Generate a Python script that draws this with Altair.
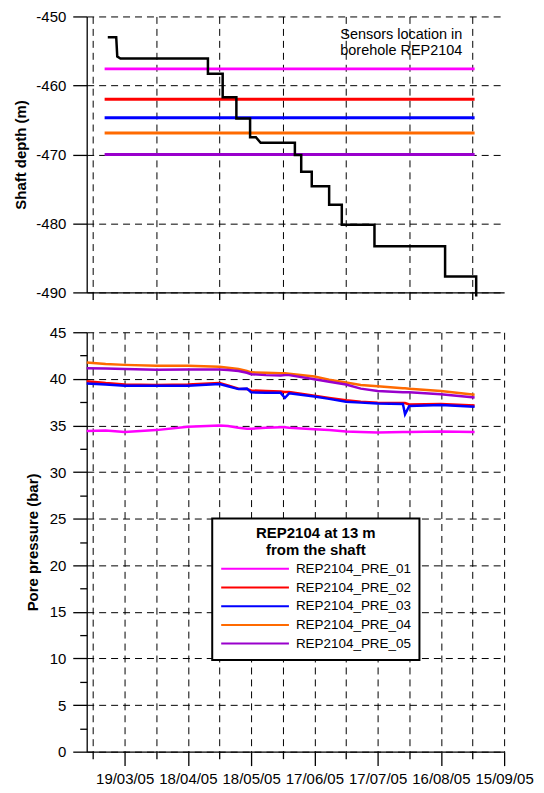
import altair as alt
import pandas as pd

FONT = "Liberation Sans"

# ---------------- data ----------------
series_names = ["REP2104_PRE_01", "REP2104_PRE_02", "REP2104_PRE_03",
                "REP2104_PRE_04", "REP2104_PRE_05"]
series_colors = ["#ff00ff", "#ff0000", "#0000ff", "#ff6a00", "#9900cc"]

# sensor depths in borehole (top panel)
sensor_depths = [-457.6, -462.0, -464.7, -466.9, -470.0]
sensor_start = "2005-03-09T12:00:00"
sensor_end = "2005-09-01T00:00:00"

# shaft excavation depth (step line)
step_dates = ["2005-03-11T00:00:00", "2005-03-15T00:00:00", "2005-03-15T12:00:00",
              "2005-03-17T00:00:00", "2005-04-27T12:00:00", "2005-04-27T12:00:00",
              "2005-05-04T12:00:00", "2005-05-04T12:00:00", "2005-05-11T00:00:00",
              "2005-05-11T00:00:00", "2005-05-17T12:00:00", "2005-05-17T12:00:00",
              "2005-05-20T06:00:00", "2005-05-22T12:00:00", "2005-06-07T18:00:00",
              "2005-06-07T18:00:00", "2005-06-10T18:00:00", "2005-06-10T18:00:00",
              "2005-06-15T18:00:00", "2005-06-15T18:00:00", "2005-06-24T00:00:00",
              "2005-06-24T00:00:00", "2005-06-30T00:00:00", "2005-06-30T00:00:00",
              "2005-07-15T12:00:00", "2005-07-15T12:00:00", "2005-08-18T00:00:00",
              "2005-08-18T00:00:00", "2005-09-01T18:00:00", "2005-09-01T18:00:00"]
step_depths = [-453.0, -453.0, -455.8, -456.1, -456.1, -458.3,
               -458.3, -461.7, -461.7, -464.8, -464.8, -467.5,
               -467.5, -468.3, -468.3, -470.1, -470.1, -472.5,
               -472.5, -474.6, -474.6, -477.3, -477.3, -480.2,
               -480.2, -483.3, -483.3, -487.7, -487.7, -490.6]

# pore pressure (bottom panel)
pressure_dates = ["2005-03-01", "2005-03-10", "2005-03-19", "2005-04-03", "2005-04-18",
                  "2005-05-03", "2005-05-07", "2005-05-12", "2005-05-16", "2005-05-18",
                  "2005-05-25", "2005-06-01", "2005-06-03", "2005-06-05", "2005-06-17",
                  "2005-06-24", "2005-07-02", "2005-07-09", "2005-07-17", "2005-07-29",
                  "2005-07-30", "2005-08-01", "2005-08-16", "2005-09-01"]
pre_01 = [34.40, 34.45, 34.30, 34.50, 34.85, 35.00, 34.95, 34.75, 34.65, 34.65,
          34.75, 34.80, 34.80, 34.75, 34.60, 34.50, 34.35, 34.30, 34.25, 34.30,
          34.30, 34.30, 34.35, 34.30]
pre_02 = [39.75, 39.55, 39.40, 39.35, 39.40, 39.55, 39.30, 38.95, 38.90, 38.75,
          38.70, 38.65, 38.60, 38.60, 38.20, 37.95, 37.70, 37.55, 37.45, 37.40,
          37.40, 37.25, 37.30, 37.15]
pre_03 = [39.50, 39.40, 39.25, 39.25, 39.25, 39.45, 39.20, 38.90, 38.95, 38.55,
          38.50, 38.50, 37.95, 38.45, 38.10, 37.85, 37.55, 37.45, 37.35, 37.30,
          36.20, 37.10, 37.20, 37.00]
pre_04 = [41.75, 41.60, 41.50, 41.40, 41.40, 41.30, 41.20, 41.05, 40.85, 40.70,
          40.65, 40.60, 40.60, 40.55, 40.25, 39.90, 39.60, 39.35, 39.20, 39.00,
          39.00, 38.95, 38.70, 38.30]
pre_05 = [41.15, 41.10, 41.05, 40.97, 41.00, 41.00, 40.95, 40.85, 40.65, 40.50,
          40.40, 40.35, 40.40, 40.40, 39.95, 39.70, 39.40, 38.95, 38.70, 38.55,
          38.55, 38.55, 38.35, 38.00]

# axis ticks
tick_dates = [(3, 4), (3, 19), (4, 3), (4, 18), (5, 3), (5, 18), (6, 2), (6, 17),
              (7, 2), (7, 17), (8, 1), (8, 16), (8, 31), (9, 15)]
x_domain = [(3, 1), (9, 15)]
depth_ticks = [-490, -485, -480, -475, -470, -465, -460, -455, -450]
pressure_ticks = [v * 2.5 for v in range(19)]

# ---------------- frames ----------------
sensor_df = pd.DataFrame({"series": series_names, "depth": sensor_depths,
                          "start": sensor_start, "end": sensor_end})
step_df = pd.DataFrame({"date": step_dates, "depth": step_depths,
                        "idx": list(range(len(step_dates)))})
rows = []
for name, vals in zip(series_names, [pre_01, pre_02, pre_03, pre_04, pre_05]):
    for d, v in zip(pressure_dates, vals):
        rows.append({"date": d + "T00:00:00", "series": name, "pressure": v})
press_df = pd.DataFrame(rows)

tick_dt = [alt.DateTime(year=2005, month=m, date=d) for m, d in tick_dates]
xdom = [alt.DateTime(year=2005, month=m, date=d) for m, d in x_domain]

MAJOR_X = "round((datum.value - datetime(2005,2,19)) / 864e5) % 30 == 0"
DASH = [7, 5]


def x_axis(pad):
    return alt.Axis(
        values=tick_dt, title=None,
        labelExpr=f"({MAJOR_X}) ? timeFormat(datum.value, '%d/%m/%y') : ''",
        tickSize={"condition": {"test": MAJOR_X, "value": 14}, "value": 7},
        grid=True, gridDash=DASH, gridColor="black", gridWidth=1,
        domainColor="black", domainWidth=1.3, tickColor="black", tickWidth=1.3,
        labelFont=FONT, labelFontSize=15, labelColor="black", labelPadding=pad,
        labelOverlap=False, labelFlush=False, labelAngle=0, labelBound=False)


def y_axis(values, step, title, tpad):
    test = f"datum.value % {step} == 0"
    return alt.Axis(
        values=values, title=title,
        labelExpr=f"{test} ? '' + datum.value : ''",
        tickSize={"condition": {"test": test, "value": 14}, "value": 7},
        grid=True, gridDash=DASH, gridColor="black", gridWidth=1,
        gridOpacity={"condition": {"test": test, "value": 1}, "value": 0},
        domainColor="black", domainWidth=1.3, tickColor="black", tickWidth=1.3,
        labelFont=FONT, labelFontSize=15, labelColor="black", labelPadding=7,
        labelOverlap=False, labelFlush=False,
        titleFont=FONT, titleFontSize=15, titleFontWeight="bold", titleColor="black",
        titlePadding=tpad)


xscale = alt.Scale(domain=xdom)

# ---------------- top panel ----------------
rules = alt.Chart(sensor_df).mark_rule(strokeWidth=3).encode(
    x=alt.X("start:T", scale=xscale, axis=x_axis(9)),
    x2="end:T",
    y=alt.Y("depth:Q", scale=alt.Scale(domain=[-490, -450], nice=False, zero=False),
            axis=y_axis(depth_ticks, 10, "Shaft depth (m)", 7)),
    color=alt.Color("series:N", scale=alt.Scale(domain=series_names, range=series_colors),
                    legend=None),
)
step = alt.Chart(step_df).mark_line(color="black", strokeWidth=2.5, strokeJoin="miter").encode(
    x="date:T", y="depth:Q", order="idx:Q")
note = alt.Chart(pd.DataFrame({"t": ["Sensors location in\nborehole REP2104"]})).mark_text(
    align="right", baseline="top", lineBreak="\n", font=FONT, fontSize=14.5,
    lineHeight=16, color="black").encode(
    x=alt.value(377), y=alt.value(12), text="t:N")
top = alt.layer(rules, step, note).properties(width=419, height=277)

# ---------------- bottom panel ----------------
bottom = alt.Chart(press_df).mark_line(strokeWidth=2.5).encode(
    x=alt.X("date:T", scale=xscale, axis=x_axis(6)),
    y=alt.Y("pressure:Q", scale=alt.Scale(domain=[0, 45], nice=False),
            axis=y_axis(pressure_ticks, 5, "Pore pressure (bar)", 9)),
    color=alt.Color("series:N",
                    scale=alt.Scale(domain=series_names, range=series_colors),
                    legend=alt.Legend(
                        title=["REP2104 at 13 m", "from the shaft"],
                        orient="none", legendX=126, legendY=187,
                        symbolType="stroke", symbolSize=4624, symbolStrokeWidth=2,
                        clipHeight=16, rowPadding=2.75,
                        labelFont=FONT, labelFontSize=13.5, labelColor="black",
                        labelOffset=6,
                        titleFont=FONT, titleFontSize=15, titleFontWeight="bold",
                        titleColor="black", titleAnchor="middle", titleAlign="center",
                        titleLineHeight=16.5, titlePadding=3,
                        fillColor="white", strokeColor="black", padding=8)),
    order=alt.Order("series:N"),
).properties(width=419, height=421)

chart = alt.vconcat(top, bottom, spacing=40, bounds="flush").resolve_scale(
    color="independent"
).properties(
    padding={"left": 5, "top": 0, "right": 2, "bottom": 2}
).configure(font=FONT).configure_view(strokeWidth=0).configure_legend(strokeWidth=2)

chart.save("out.html", embed_options={"renderer": "svg", "actions": False})
